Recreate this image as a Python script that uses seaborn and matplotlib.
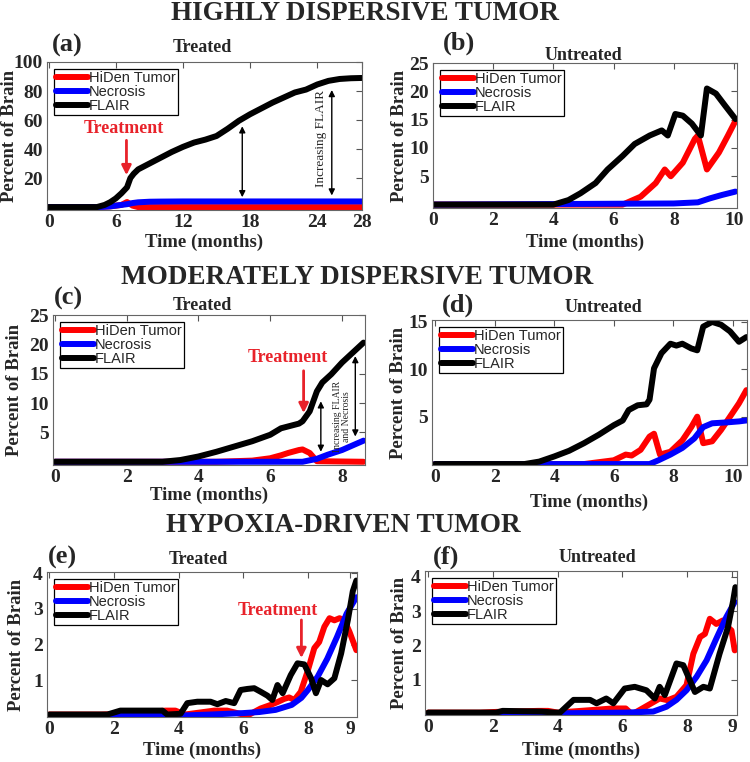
import numpy as np
import pandas as pd
import matplotlib
matplotlib.use("Agg")
import matplotlib.pyplot as plt
import seaborn as sns

# ---------------- data ----------------
SERIES = ["HiDen Tumor", "Necrosis", "FLAIR"]
COLORS = {"HiDen Tumor": "#ff0000", "Necrosis": "#0000ff", "FLAIR": "#000000"}

# (a) Highly dispersive, treated
a_t_flair = [0, 4.3, 5, 5.5, 6, 6.5, 7, 7.3, 7.6, 8, 9, 10, 11, 12, 13, 14, 15, 16, 17, 18,
             19, 20, 21, 22, 23, 24, 25, 26, 27, 28]
a_flair = [0, 0, 1.5, 3.4, 6, 9.5, 13.6, 20, 23, 26, 30, 34, 38, 41.5, 44.5, 46.5, 49, 54, 59.5, 64,
           68, 72, 75.5, 79, 81, 84.5, 87, 88.3, 88.8, 89]
a_t_necro = [0, 4.5, 5.5, 6.5, 7, 7.5, 8, 9, 10, 12, 28]
a_necro = [0, 0, 0.5, 1.5, 2, 2.8, 3.3, 3.7, 3.8, 3.9, 3.9]
a_t_tumor = [0, 4.5, 5.5, 6.5, 7, 7.5, 8, 28]
a_tumor = [0, 0, 0.5, 1.5, 3.5, 1, 0, 0]

# (b) Highly dispersive, untreated
b_t_flair = [0, 4.0, 4.5, 4.9, 5.4, 5.8, 6.3, 6.7, 7.2, 7.6, 7.8, 8.05, 8.3, 8.6, 8.9, 9.1, 9.4, 9.7, 10.05]
b_flair = [0, 0, 0.8, 2, 3.8, 6.2, 8.6, 10.7, 12.2, 13.1, 12.2, 16, 15.7, 14.3, 12.2, 20.5, 19.6, 17.5, 15.1]
b_t_tumor = [0, 6.3, 6.9, 7.4, 7.7, 7.9, 8.3, 8.7, 8.8, 9.1, 9.5, 9.8, 10.05]
b_tumor = [0, 0, 1.4, 3.8, 6.2, 5, 7.4, 11.6, 12.2, 6.2, 9.2, 12.2, 14.8]
b_t_necro = [0, 8.0, 8.8, 9.2, 9.6, 10.05]
b_necro = [0, 0.2, 0.4, 1.1, 1.7, 2.3]

# (c) Moderately dispersive, treated
c_t_flair = [0, 3, 3.5, 4, 4.5, 5, 5.5, 6, 6.3, 6.8, 6.9, 7.1, 7.3, 7.45, 7.7, 8.0, 8.3, 8.6]
c_flair = [0, 0, 0.3, 0.9, 1.7, 2.6, 3.5, 4.6, 5.7, 6.5, 6.9, 8.6, 12, 13.5, 14.9, 16.9, 18.6, 20.3]
c_t_tumor = [0, 4.5, 5.5, 6, 6.3, 6.5, 6.8, 6.9, 7.1, 7.3, 8.6]
c_tumor = [0, 0, 0.2, 0.6, 1.1, 1.5, 2, 2.1, 1.5, 0.1, 0]
c_t_necro = [0, 6.9, 7.3, 7.6, 8, 8.3, 8.6]
c_necro = [0, 0, 0.5, 1.2, 2, 2.8, 3.6]

# (d) Moderately dispersive, untreated
d_t_flair = [0, 3, 3.5, 4, 4.5, 5, 5.5, 6, 6.3, 6.5, 6.8, 7.1, 7.2, 7.35, 7.6, 7.9, 8.1, 8.3, 8.6,
             8.8, 9.0, 9.3, 9.6, 9.9, 10.2, 10.45]
d_flair = [0, 0, 0.26, 0.8, 1.4, 2.2, 3.1, 4.1, 4.6, 5.7, 6.2, 6.3, 6.8, 10.1, 11.7, 12.7, 12.5, 12.7,
           12.2, 12, 14.5, 15, 14.7, 14, 12.9, 13.4]
d_t_tumor = [0, 5, 5.5, 6, 6.4, 6.6, 6.9, 7.2, 7.35, 7.55, 7.9, 8.3, 8.6, 8.8, 9.0, 9.3, 9.6, 9.9, 10.2, 10.45]
d_tumor = [0, 0, 0.2, 0.4, 1, 0.9, 1.5, 2.9, 3.2, 1, 1.3, 2.5, 3.9, 5, 2.2, 2.4, 3.6, 5, 6.4, 7.8]
d_t_necro = [0, 7.2, 7.5, 7.9, 8.3, 8.7, 9.0, 9.3, 9.8, 10.2, 10.45]
d_necro = [0, 0, 0.4, 1, 1.7, 2.7, 3.9, 4.3, 4.4, 4.5, 4.6]

# (e) Hypoxia-driven, treated
e_t_flair = [0, 1.8, 2.2, 3.5, 3.65, 4.06, 4.27, 4.58, 4.99, 5.2, 5.46, 5.72, 5.92, 6.13, 6.34, 6.54,
             6.75, 6.9, 7.06, 7.22, 7.47, 7.68, 7.89, 8.1, 8.25, 8.41, 8.61, 8.82, 9.03, 9.24, 9.39, 9.5]
e_flair = [0.03, 0.03, 0.14, 0.14, 0.03, 0.05, 0.35, 0.39, 0.39, 0.32, 0.41, 0.35, 0.72, 0.75, 0.77, 0.67,
           0.56, 0.44, 0.86, 0.63, 1.14, 1.47, 1.44, 1.05, 0.63, 1.0, 0.88, 1.05, 1.75, 2.7, 3.5, 3.8]
e_t_tumor = [0, 1.6, 2.3, 3.6, 3.9, 4.2, 5.1, 5.5, 5.9, 6.13, 6.54, 6.85, 7.06, 7.27, 7.42, 7.58, 7.78,
             7.99, 8.2, 8.35, 8.51, 8.67, 8.82, 8.98, 9.13, 9.29, 9.5]
e_tumor = [0.03, 0.03, 0.05, 0.14, 0.14, 0.03, 0.14, 0.14, 0.05, 0.0, 0.2, 0.3, 0.38, 0.47, 0.51, 0.44,
           0.67, 1.24, 1.9, 2.07, 2.5, 2.74, 2.68, 2.74, 2.68, 2.35, 1.84]
e_t_necro = [0, 4, 5, 6, 6.5, 7, 7.5, 7.8, 8.0, 8.3, 8.6, 8.9, 9.2, 9.5]
e_necro = [0, 0, 0.03, 0.07, 0.1, 0.16, 0.3, 0.5, 0.72, 1.09, 1.6, 2.21, 2.87, 3.33]

# (f) Hypoxia-driven, untreated
f_t_flair = [0, 2.1, 2.3, 3.5, 3.9, 4.07, 4.49, 5.0, 5.2, 5.5, 5.72, 6.07, 6.38, 6.74, 7.0, 7.15, 7.31,
             7.67, 7.88, 8.24, 8.5, 8.7, 9.0, 9.26, 9.42, 9.49]
f_flair = [0.05, 0.05, 0.1, 0.08, 0.05, 0.05, 0.42, 0.42, 0.32, 0.46, 0.32, 0.75, 0.8, 0.7, 0.46, 0.8, 0.56,
           1.48, 1.43, 0.65, 0.8, 0.75, 1.76, 2.53, 3.3, 3.7]
f_t_tumor = [0, 1.6, 2.1, 3.4, 3.7, 4.0, 5.7, 6.1, 6.3, 6.8, 7.15, 7.4, 7.67, 7.98, 8.19, 8.4, 8.55, 8.7,
             8.9, 9.1, 9.26, 9.37, 9.47]
f_tumor = [0.05, 0.05, 0.07, 0.1, 0.1, 0.05, 0.17, 0.17, 0.0, 0.27, 0.46, 0.41, 0.51, 0.85, 1.76, 2.25,
           2.34, 2.78, 2.63, 2.73, 2.53, 2.44, 1.86]
f_t_necro = [0, 4, 6.1, 6.95, 7.36, 7.67, 7.98, 8.29, 8.6, 8.9, 9.21, 9.47]
f_necro = [0, 0.03, 0.05, 0.08, 0.22, 0.42, 0.7, 1.09, 1.57, 2.2, 2.83, 3.27]

# tick labels
a_xticks = [0, 6, 12, 18, 24, 28]
a_yticks = [20, 40, 60, 80, 100]
b_xticks = [0, 2, 4, 6, 8, 10]
b_yticks = [5, 10, 15, 20, 25]
c_xticks = [0, 2, 4, 6, 8]
c_yticks = [5, 10, 15, 20, 25]
d_xticks = [0, 2, 4, 6, 8, 10]
d_yticks = [5, 10, 15]
ef_xtick_labels = ["0", "2", "4", "6", "8", "9"]
ef_yticks = [1, 2, 3, 4]

# ---------------- figure ----------------
sns.set_theme(style="white")
plt.rcParams["font.family"] = ["Liberation Serif", "DejaVu Serif"]

W, H = 750, 762
fig = plt.figure(figsize=(W / 100, H / 100), dpi=100)
RED = "#e8222a"


def make_ax(L, T, R, B):
    ax = fig.add_axes([L / W, 1 - B / H, (R - L) / W, (B - T) / H])
    ax._box = (L, T, R, B)
    return ax


def ftext(x, y, s, **kw):
    fig.text(x / W, 1 - y / H, s, ha="center", va="center", **kw)


def panel(ax, series, xlim, ylim, xticks, xticklabels, yticks, ylab_x, xlab_y):
    frames = []
    for name in SERIES:
        t, v = series[name]
        frames.append(pd.DataFrame({"t": t, "v": v, "Series": name}))
    df = pd.concat(frames, ignore_index=True)
    sns.lineplot(data=df, x="t", y="v", hue="Series", hue_order=SERIES, palette=COLORS,
                 linewidth=4.3, sort=False, estimator=None, ax=ax, legend=True)
    ax.set_xlim(*xlim)
    ax.set_ylim(*ylim)
    ax.set_xticks(xticks)
    ax.set_xticklabels(xticklabels)
    ax.set_yticks(yticks)
    ax.set_yticklabels([str(y) for y in yticks])
    ax.tick_params(direction="in", length=4, width=0.8, color="#555555", top=True, right=True,
                   labelsize=14, pad=3)
    for lab in ax.get_xticklabels() + ax.get_yticklabels():
        lab.set_fontweight("bold")
    for sp in ax.spines.values():
        sp.set_color("#666666")
        sp.set_linewidth(0.8)
    L, T, R, B = ax._box
    ax.set_xlabel("Time (months)", fontsize=13.5, fontweight="bold")
    ax.set_ylabel("Percent of Brain", fontsize=13.5, fontweight="bold")
    ax.yaxis.set_label_coords((ylab_x - L) / (R - L), 0.5)
    ax.yaxis.label.set_verticalalignment("center")
    ax.xaxis.set_label_coords(0.5, (B - xlab_y) / (B - T))
    ax.xaxis.label.set_verticalalignment("center")
    handles, labels = ax.get_legend_handles_labels()
    for h in handles:
        h.set_linewidth(4.3)
    leg = ax.legend(handles, labels, loc="upper left", frameon=True, fancybox=False,
                    edgecolor="black", framealpha=1, borderpad=0.15, labelspacing=0.0,
                    handlelength=2.2, handletextpad=0.05, borderaxespad=0.45,
                    prop={"family": "Liberation Sans", "size": 10.5})
    leg.get_frame().set_linewidth(0.9)


def dbl_arrow(ax, x, y0, y1):
    ax.annotate("", xy=(x, y0), xytext=(x, y1),
                arrowprops=dict(arrowstyle="<|-|>", color="black", lw=1.0, mutation_scale=9,
                                shrinkA=0, shrinkB=0))


def treat_arrow(ax, x, y0, y1):
    ax.annotate("", xy=(x, y1), xytext=(x, y0),
                arrowprops=dict(arrowstyle="-|>", color=RED, lw=2.0, mutation_scale=14,
                                shrinkA=0, shrinkB=0))


# (a)
ax = make_ax(47, 62, 362, 210)
panel(ax, {"HiDen Tumor": (a_t_tumor, a_tumor), "Necrosis": (a_t_necro, a_necro),
           "FLAIR": (a_t_flair, a_flair)},
      (-0.15, 28), (-2, 100), a_xticks, [str(x) for x in a_xticks], a_yticks, 10, 242)
ax.text(6.7, 54.5, "Treatment", color=RED, fontsize=13, fontweight="bold", ha="center", va="center")
treat_arrow(ax, 6.95, 46, 22)
dbl_arrow(ax, 17.3, 6.8, 55.7)
dbl_arrow(ax, 25.3, 8, 80.7)
ax.text(24.3, 47, "Increasing FLAIR", rotation=90, fontsize=9.5, ha="center", va="center")

# (b)
ax = make_ax(433, 63, 737, 208)
panel(ax, {"HiDen Tumor": (b_t_tumor, b_tumor), "Necrosis": (b_t_necro, b_necro),
           "FLAIR": (b_t_flair, b_flair)},
      (0, 10.1), (-0.6, 25), b_xticks, [str(x) for x in b_xticks], b_yticks, 400, 242)

# (c)
ax = make_ax(53, 315, 365, 465)
panel(ax, {"HiDen Tumor": (c_t_tumor, c_tumor), "Necrosis": (c_t_necro, c_necro),
           "FLAIR": (c_t_flair, c_flair)},
      (-0.05, 8.64), (-0.55, 25), c_xticks, [str(x) for x in c_xticks], c_yticks, 15, 495)
ax.text(6.5, 17.8, "Treatment", color=RED, fontsize=13, fontweight="bold", ha="center", va="center")
treat_arrow(ax, 6.93, 15.5, 8.3)
dbl_arrow(ax, 7.41, 1.7, 10.3)
dbl_arrow(ax, 8.37, 4.3, 18)
ax.text(8.0, 7.7, "Increasing FLAIR\nand Necrosis", rotation=90, fontsize=7, ha="center",
        va="center", linespacing=1.1)

# (d)
ax = make_ax(432, 320, 747, 465)
panel(ax, {"HiDen Tumor": (d_t_tumor, d_tumor), "Necrosis": (d_t_necro, d_necro),
           "FLAIR": (d_t_flair, d_flair)},
      (-0.1, 10.47), (-0.1, 15.2), d_xticks, [str(x) for x in d_xticks], d_yticks, 399, 502)

# (e)
ax = make_ax(47, 572, 357, 717)
panel(ax, {"HiDen Tumor": (e_t_tumor, e_tumor), "Necrosis": (e_t_necro, e_necro),
           "FLAIR": (e_t_flair, e_flair)},
      (-0.07, 9.52), (-0.04, 4.04), [0, 2, 4, 6, 8, 9.3], ef_xtick_labels, ef_yticks, 17, 750)
ax.text(7.07, 2.97, "Treatment", color=RED, fontsize=13, fontweight="bold", ha="center", va="center")
treat_arrow(ax, 7.8, 2.69, 1.62)

# (f)
ax = make_ax(425, 571, 737, 715)
panel(ax, {"HiDen Tumor": (f_t_tumor, f_tumor), "Necrosis": (f_t_necro, f_necro),
           "FLAIR": (f_t_flair, f_flair)},
      (-0.1, 9.54), (-0.02, 4.17), [0, 2, 4, 6, 8, 9.4], ef_xtick_labels, ef_yticks, 400, 750)

# section titles
ftext(365, 13, "HIGHLY DISPERSIVE TUMOR", fontsize=19.5, fontweight="bold")
ftext(357, 278, "MODERATELY DISPERSIVE TUMOR", fontsize=19.5, fontweight="bold")
ftext(343, 526, "HYPOXIA-DRIVEN TUMOR", fontsize=19.5, fontweight="bold")

# panel letters
for x, y, s in [(67, 45, "(a)"), (459, 43, "(b)"), (68, 298, "(c)"), (458, 305, "(d)"),
                (62, 557, "(e)"), (446, 557, "(f)")]:
    ftext(x, y, s, fontsize=19, fontweight="bold")

# sub titles
for x, y, s in [(202, 48, "Treated"), (583, 55, "Untreated"), (202, 306, "Treated"),
                (603, 307, "Untreated"), (198, 560, "Treated"), (597, 558, "Untreated")]:
    ftext(x, y, s, fontsize=13, fontweight="bold")

fig.savefig("out.png", dpi=100, facecolor="white")
